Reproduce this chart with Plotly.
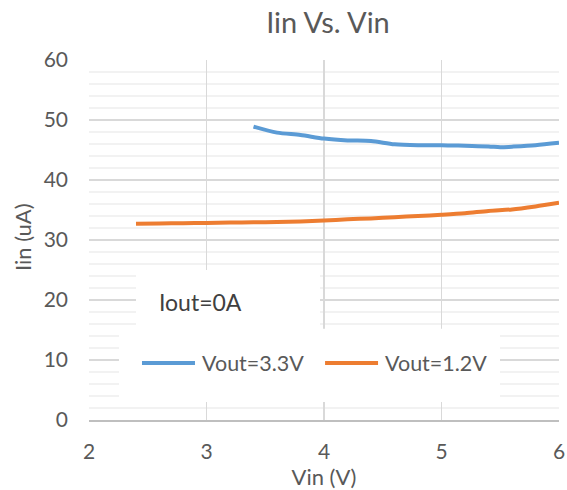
import plotly.graph_objects as go

# ---- data ----
title_text = "Iin Vs. Vin"
x_title = "Vin (V)"
y_title = "Iin (uA)"
note_text = "Iout=0A"

vin_33 = [3.4, 3.6, 3.8, 4.0, 4.2, 4.4, 4.6, 4.8, 5.0, 5.2, 5.4, 5.5, 5.6, 5.8, 6.0]
iin_33 = [48.9, 47.9, 47.5, 46.9, 46.6, 46.5, 45.95, 45.8, 45.8, 45.7, 45.6, 45.45, 45.55, 45.8, 46.2]

vin_12 = [2.4, 2.6, 2.8, 3.0, 3.2, 3.4, 3.6, 3.8, 4.0, 4.2, 4.4, 4.6, 4.8, 5.0, 5.2, 5.4, 5.6, 5.8, 6.0]
iin_12 = [32.7, 32.75, 32.8, 32.85, 32.9, 32.95, 33.0, 33.1, 33.25, 33.45, 33.6, 33.8, 34.0, 34.2, 34.45, 34.85, 35.1, 35.6, 36.2]

series_names = ["Vout=3.3V", "Vout=1.2V"]
series_colors = ["#5B9BD5", "#ED7D31"]

x_ticks = [2, 3, 4, 5, 6]
y_ticks = [0, 10, 20, 30, 40, 50, 60]

FONT = "Lato"
TXT = "#595959"

W, H = 567, 490

fig = go.Figure()
fig.add_trace(go.Scatter(x=vin_33, y=iin_33, mode="lines", name=series_names[0],
                         line=dict(color=series_colors[0], width=4, shape="spline", smoothing=0.8),
                         showlegend=False, hoverinfo="skip"))
fig.add_trace(go.Scatter(x=vin_12, y=iin_12, mode="lines", name=series_names[1],
                         line=dict(color=series_colors[1], width=4, shape="spline", smoothing=0.8),
                         showlegend=False, hoverinfo="skip"))

# white boxes for note and legend
fig.add_shape(type="rect", xref="x", yref="y", x0=2.40, x1=3.966, y0=15, y1=25.0,
              fillcolor="white", line=dict(width=0), layer="between")
fig.add_shape(type="rect", xref="x", yref="y", x0=2.255, x1=5.498, y0=3.0, y1=15.2,
              fillcolor="white", line=dict(width=0), layer="between")

# manual legend
leg_y = 9.5
leg_items = [(2.451, 2.902, 2.945), (4.009, 4.460, 4.502)]
for (lx0, lx1, tx), nm, col in zip(leg_items, series_names, series_colors):
    fig.add_shape(type="line", xref="x", yref="y", x0=lx0, x1=lx1, y0=leg_y, y1=leg_y,
                  line=dict(color=col, width=4), layer="above")
    fig.add_annotation(x=tx, y=leg_y, xref="x", yref="y", text=nm, showarrow=False,
                       xanchor="left", yanchor="middle",
                       font=dict(family=FONT, size=21.5, color=TXT))

fig.add_annotation(x=2.58, y=19.7, xref="x", yref="y", text=note_text, showarrow=False,
                   xanchor="left", yanchor="middle",
                   font=dict(family=FONT, size=23, color="#404040"))

# y-axis title placed as rotated text
fig.add_annotation(x=(22 - 89) / 470, y=(420 - 237) / 360, xref="paper", yref="paper",
                   text=y_title, textangle=-90, showarrow=False,
                   xanchor="center", yanchor="middle",
                   font=dict(family=FONT, size=22, color=TXT))

fig.update_layout(
    template="none",
    width=W, height=H,
    margin=dict(l=89, r=8, t=60, b=70, autoexpand=False),
    paper_bgcolor="white", plot_bgcolor="white",
    font=dict(family=FONT, color=TXT),
    title=dict(text=title_text, x=328 / W, xanchor="center", y=1 - 23 / H, yanchor="middle",
               font=dict(family=FONT, size=29, color=TXT)),
    showlegend=False,
)
fig.update_xaxes(range=[2, 6], tickvals=x_ticks, ticks="", showline=True, linecolor="#bfbfbf", linewidth=1.5,
                 showgrid=True, gridcolor="#d9d9d9", gridwidth=1.5, zeroline=False, automargin=False,
                 tickfont=dict(family=FONT, size=21, color=TXT), ticklabelstandoff=12,
                 title=dict(text=x_title, font=dict(family=FONT, size=22, color=TXT), standoff=4))
fig.update_yaxes(range=[0, 60], tickvals=y_ticks, ticks="", showline=False,
                 showgrid=True, gridcolor="#d9d9d9", gridwidth=1.5, zeroline=False, automargin=False,
                 minor=dict(dtick=2, showgrid=True, gridcolor="#f2f2f2", gridwidth=1.5),
                 tickfont=dict(family=FONT, size=21, color=TXT), ticklabelstandoff=20)

# remove the browser's default 8px body margin so the figure fills the window exactly
fig.write_html("out.html", config={"displayModeBar": False, "staticPlot": True},
               post_script="document.body.style.margin='0';document.body.style.overflow='hidden';")
